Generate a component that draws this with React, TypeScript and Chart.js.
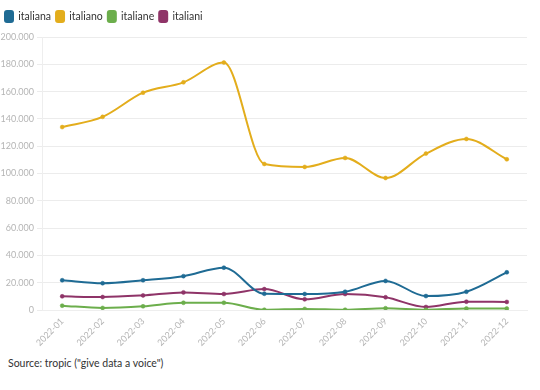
import React, { useEffect, useRef } from "react";
import { Chart, registerables } from "chart.js";

Chart.register(...registerables);

const categories = ["2022-01","2022-02","2022-03","2022-04","2022-05","2022-06","2022-07","2022-08","2022-09","2022-10","2022-11","2022-12"];
const italiana = [21800, 19600, 21800, 24800, 31000, 11900, 11700, 13400, 21300, 10200, 13400, 27600];
const italiano = [134000, 141500, 159200, 166800, 181300, 107000, 104800, 111400, 96700, 114600, 125300, 110400];
const italiane = [3200, 1500, 2700, 5300, 5300, 200, 800, 200, 1300, 200, 1100, 1100];
const italiani = [10000, 9500, 10700, 12900, 11700, 15300, 7800, 11700, 9300, 2200, 6100, 5900];
const yTicks = [0, 20000, 40000, 60000, 80000, 100000, 120000, 140000, 160000, 180000, 200000];

const fmt = (v: number) => String(Math.round(v)).replace(/\B(?=(\d{3})+(?!\d))/g, ".");

const legendSpacer = {
  id: "legendSpacer",
  beforeInit(chart: any) {
    const lg = chart.legend;
    if (!lg) return;
    const orig = lg.fit;
    lg.fit = function () {
      orig.call(this);
      this.height += 5;
    };
  },
};

export default function App() {
  const ref = useRef<HTMLCanvasElement>(null);
  useEffect(() => {
    const mk = (label: string, data: number[], color: string) => ({
      label, data, borderColor: color, backgroundColor: color,
      pointBackgroundColor: color, pointBorderColor: color,
      borderWidth: 2, pointRadius: 2, pointBorderWidth: 0.5,
      tension: 0.4, cubicInterpolationMode: "monotone" as const, fill: false,
    });
    const chart = new Chart(ref.current!, {
      type: "line",
      data: {
        labels: categories,
        datasets: [
          mk("italiana", italiana, "#1f6b94"),
          mk("italiano", italiano, "#e3ad1c"),
          mk("italiane", italiane, "#6cae4c"),
          mk("italiani", italiani, "#8f3468"),
        ],
      },
      plugins: [legendSpacer],
      options: {
        animation: false,
        responsive: false,
        layout: { padding: { left: 0, right: 13, top: 6, bottom: 0 } },
        plugins: {
          tooltip: { enabled: false },
          legend: {
            position: "top",
            align: "start",
            labels: {
              boxWidth: 8, boxHeight: 11, padding: 5, color: "#333",
              font: { family: "Lato", size: 10.5 },
              useBorderRadius: true, borderRadius: 2,
            },
          },
        },
        scales: {
          x: {
            offset: true,
            grid: { display: false, drawTicks: false },
            border: { display: true, color: "#eeeeee" },
            ticks: { color: "#b5b5b5", font: { family: "Lato", size: 9 }, maxRotation: 45, minRotation: 45, padding: 6 },
            afterFit: (s: any) => { s.height = 40; },
          },
          y: {
            min: 0, max: 200000,
            afterBuildTicks: (s: any) => { s.ticks = yTicks.map((v) => ({ value: v })); },
            grid: { color: "#ececec", tickLength: 5, tickColor: "#ececec" },
            border: { display: true, color: "#eeeeee" },
            ticks: { color: "#b5b5b5", font: { family: "Lato", size: 9 }, padding: 3, callback: (v: any) => fmt(Number(v)) },
            afterFit: (s: any) => { s.width = 42; },
          },
        },
      },
    });
    return () => chart.destroy();
  }, []);
  return (
    <div style={{ position: "fixed", left: 0, top: 0, width: 540, height: 390, background: "#fff" }}>
      <canvas ref={ref} width={540} height={350} style={{ display: "block" }} />
      <div style={{ position: "absolute", left: 8, top: 357, fontFamily: "Lato", fontSize: 10.5, color: "#333" }}>
        Source: tropic ("give data a voice")
      </div>
    </div>
  );
}
